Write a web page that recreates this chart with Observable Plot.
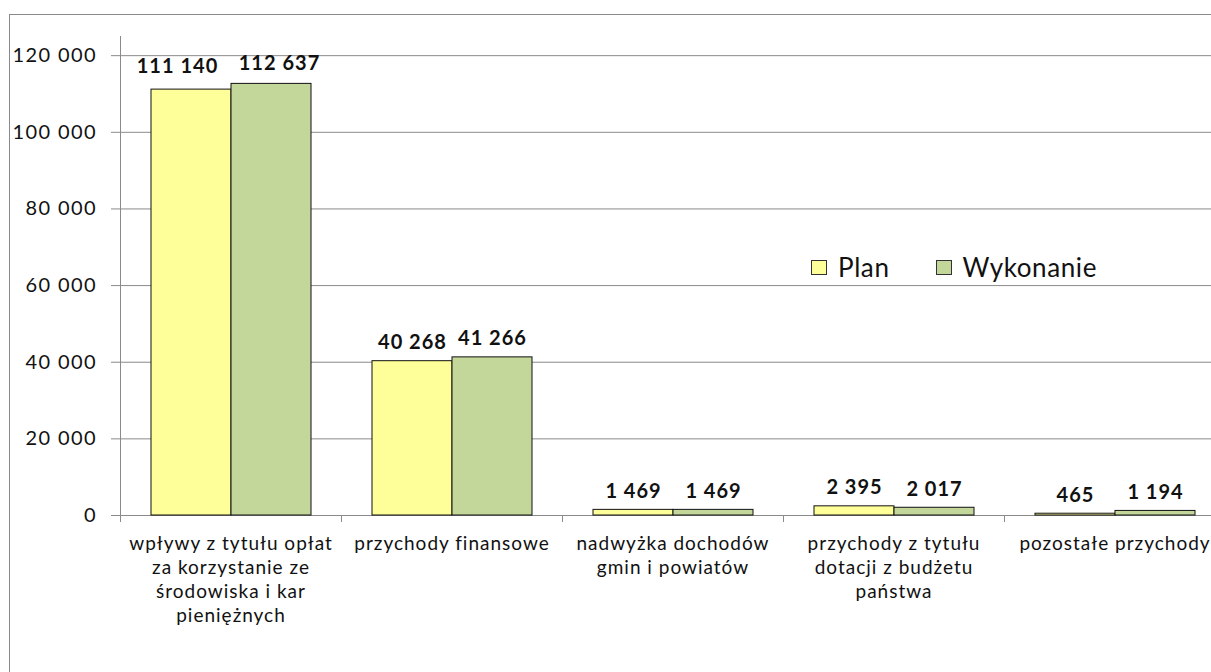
<!DOCTYPE html>
<html>
<head>
<meta charset="utf-8">
<script src="https://cdn.jsdelivr.net/npm/d3@7"></script>
<script src="https://cdn.jsdelivr.net/npm/@observablehq/plot@0.6"></script>
<style>
  html, body { margin: 0; padding: 0; background: #fff; overflow: hidden; width: 1211px; height: 672px; }
  #wrap { position: relative; width: 1211px; height: 672px; overflow: hidden; font-family: Lato, "Open Sans", sans-serif; }
  #border { position: absolute; left: 9px; top: 14px; width: 1400px; height: 800px; border-left: 1px solid #8a8a8a; border-top: 1px solid #8a8a8a; pointer-events: none; }
  #chart { position: absolute; left: 0; top: 0; width: 1225px; }
  #chart svg { max-width: none !important; }
  #chart g[aria-label="y-axis tick label"] text { letter-spacing: 1.4px; }
  #chart g[aria-label="fx-axis tick label"] text { letter-spacing: 1px; }
  #chart g[aria-label="text"] text { letter-spacing: 1px; }
  #legend { position: absolute; left: 811px; top: 252px; display: flex; align-items: center; font-family: Lato, sans-serif; font-size: 26px; letter-spacing: 0.6px; color: #111; line-height: 30px; }
  .item { display: flex; align-items: center; margin-right: 46px; }
  .sw { width: 16px; height: 15px; border: 1px solid #333; margin-right: 11px; box-sizing: border-box; }
</style>
</head>
<body>
<div id="wrap">
  <div id="border"></div>
  <div id="chart"></div>
  <div id="legend"></div>
</div>
<script>
const categories = [
  "wpływy z tytułu opłat za korzystanie ze środowiska i kar pieniężnych",
  "przychody finansowe",
  "nadwyżka dochodów gmin i powiatów",
  "przychody z tytułu dotacji z budżetu państwa",
  "pozostałe przychody"
];
const categoryLabels = [
  "wpływy z tytułu opłat\nza korzystanie ze\nśrodowiska i kar\npieniężnych",
  "przychody finansowe",
  "nadwyżka dochodów\ngmin i powiatów",
  "przychody z tytułu\ndotacji z budżetu\npaństwa",
  "pozostałe przychody"
];
const series = ["Plan", "Wykonanie"];
const planValues = [111140, 40268, 1469, 2395, 465];
const wykonanieValues = [112637, 41266, 1469, 2017, 1194];
const yTicks = [0, 20000, 40000, 60000, 80000, 100000, 120000];
const yMax = 125000;
const seriesColors = ["#FFFF99", "#C4D79B"];

const rows = [];
categories.forEach((c, i) => {
  rows.push({category: c, series: series[0], value: planValues[i]});
  rows.push({category: c, series: series[1], value: wykonanieValues[i]});
});
const labelOf = new Map(categories.map((c, i) => [c, categoryLabels[i]]));
const fmt = d3.formatLocale({decimal: ",", thousands: " ", grouping: [3], currency: ["", ""]}).format(",d");

const W = 1225, H = 672, ML = 120, MR = 0, MT = 36, MB = 157;
const step = (W - ML - MR) / categories.length;
const AX = "#8a8a8a";

const firstCat = categories[0];
const restRows = rows.filter(d => d.category !== firstCat);
const firstPlan = rows.filter(d => d.category === firstCat && d.series === series[0]);
const firstWyk = rows.filter(d => d.category === firstCat && d.series === series[1]);
const labelOpts = {
  fx: "category", x: "series", y: "value", text: d => fmt(d.value),
  lineAnchor: "bottom", fontWeight: "bold", fontSize: 20, fill: "#111",
  fontFamily: "Lato, sans-serif"
};

const chart = Plot.plot({
  width: W, height: H,
  marginLeft: ML, marginRight: MR, marginTop: MT, marginBottom: MB,
  style: {fontFamily: "Lato, sans-serif", background: "transparent", overflow: "visible", maxWidth: "none"},
  fx: {domain: categories, padding: 0, label: null},
  x: {domain: series, paddingInner: 0, paddingOuter: 0.38, axis: null},
  y: {domain: [0, yMax], label: null},
  color: {domain: series, range: seriesColors},
  marks: [
    Plot.gridY(yTicks, {stroke: AX, strokeOpacity: 1, strokeWidth: 1}),
    Plot.ruleY([0], {stroke: AX, strokeWidth: 1}),
    Plot.barY(rows, {fx: "category", x: "series", y: "value", fill: "series", stroke: "#111", strokeWidth: 1}),
    Plot.text(restRows, {...labelOpts, dy: -12}),
    Plot.text(firstPlan, {...labelOpts, dx: -14, dy: -17}),
    Plot.text(firstWyk, {...labelOpts, dx: 8, dy: -14}),
    Plot.frame({anchor: "left", stroke: AX, facetAnchor: "left"}),
    Plot.axisY({ticks: yTicks, tickFormat: fmt, tickSize: 9, tickPadding: 14.5, stroke: AX, fill: "#111", fontSize: 20, label: null}),
    Plot.axisFx({anchor: "bottom", tickSize: 7, tickFormat: () => "", dx: -step / 2, stroke: AX, label: null}),
    Plot.axisFx({anchor: "bottom", tickSize: 0, tickPadding: 18, tickFormat: c => labelOf.get(c), lineAnchor: "top", lineHeight: 1.25, fontSize: 19, fill: "#111", label: null})
  ]
});
document.getElementById("chart").appendChild(chart);

const legend = document.getElementById("legend");
series.forEach((s, i) => {
  const item = document.createElement("div");
  item.className = "item";
  const sw = document.createElement("span");
  sw.className = "sw";
  sw.style.background = seriesColors[i];
  const t = document.createElement("span");
  t.textContent = s;
  item.appendChild(sw);
  item.appendChild(t);
  legend.appendChild(item);
});
</script>
</body>
</html>
